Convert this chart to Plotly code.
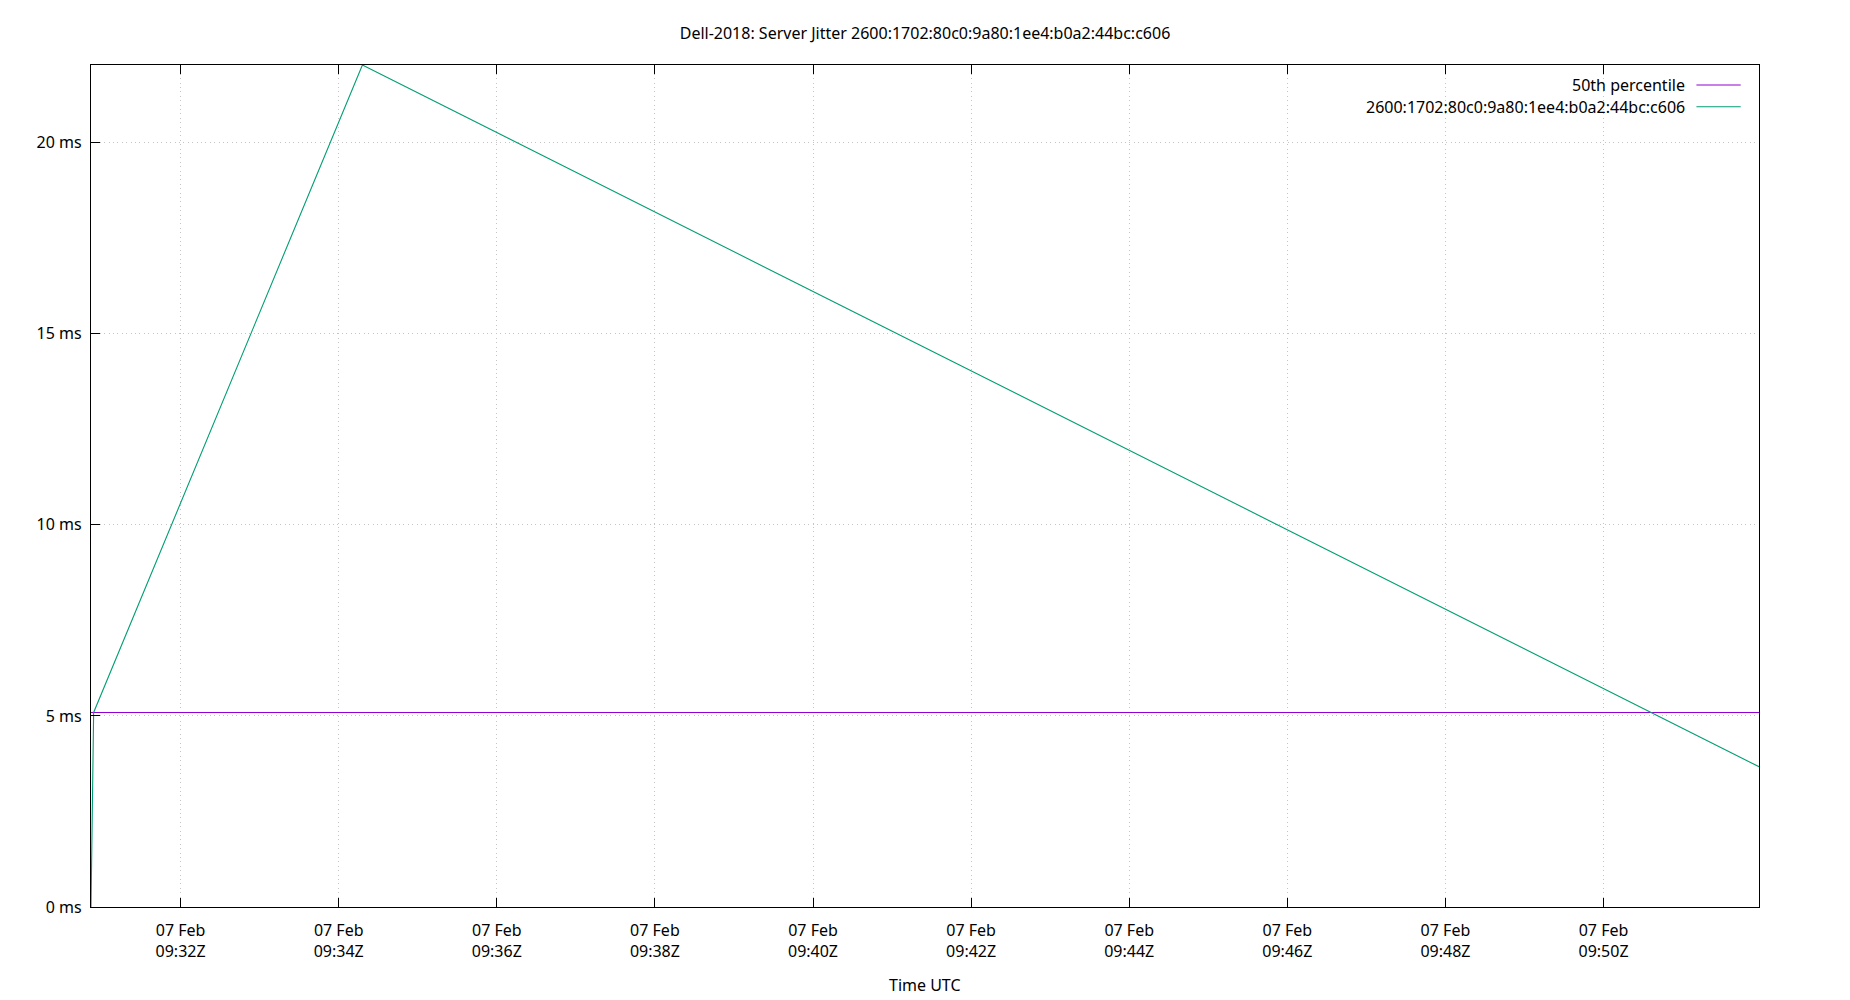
import plotly.graph_objects as go

# Data
times = ["2024-02-07 09:30:52", "2024-02-07 09:30:54", "2024-02-07 09:34:18", "2024-02-07 09:51:58"]
jitter_ms = [0.0, 5.09, 22.03, 3.67]
pct_times = ["2024-02-07 09:30:52", "2024-02-07 09:51:58"]
pct50_ms = [5.09, 5.09]

series_name = "2600:1702:80c0:9a80:1ee4:b0a2:44bc:c606"
pct_name = "50th percentile"
title_text = "Dell-2018: Server Jitter 2600:1702:80c0:9a80:1ee4:b0a2:44bc:c606"
y_ticks = [0, 5, 10, 15, 20]

FONT = "Noto Sans"
FS = 16
C_PCT = "#9400d3"
C_SER = "#009e73"

fig = go.Figure()
fig.add_trace(go.Scatter(x=pct_times, y=pct50_ms, mode="lines", name=pct_name,
                         line=dict(color=C_PCT, width=1.1), showlegend=False))
fig.add_trace(go.Scatter(x=times, y=jitter_ms, mode="lines", name=series_name,
                         line=dict(color=C_SER, width=1.1), showlegend=False))

axis_common = dict(
    showline=True, linecolor="black", linewidth=1.3,
    ticks="inside", ticklen=9, tickcolor="black", tickwidth=1.3,
    showgrid=True, gridcolor="#c4c4c4", griddash="1px,3.4px", gridwidth=1,
    zeroline=False, tickfont=dict(family=FONT, size=FS, color="black"),
)

fig.update_xaxes(
    type="date", range=[times[0], times[-1]],
    tick0="2024-02-07 09:32:00", dtick=120000,
    tickformat="%d %b<br>%H:%MZ", mirror="ticks", ticklabelstandoff=9,
    **axis_common,
)
fig.update_yaxes(
    range=[0, 22.03], tickvals=y_ticks, ticktext=[f"{v} ms" for v in y_ticks],
    mirror=True, ticklabelstandoff=5,
    **axis_common,
)

# gnuplot-style legend (text right, sample to the right)
legend_items = [(pct_name, C_PCT), (series_name, C_SER)]
W, H = 1850, 1000
L, R, T, B = 90.5, 90.7, 65.3, 93
pw, ph = W - L - R, H - T - B
def px_x(x):
    return (x - L) / pw
def px_y(y):
    return (H - B - y) / ph
annotations = []
shapes = []
for i, (name, col) in enumerate(legend_items):
    yc = 85.3 + i * 21.7
    annotations.append(dict(x=px_x(1687.5), y=px_y(yc), xref="paper", yref="paper",
                            text=name, showarrow=False, xanchor="right", yanchor="middle",
                            font=dict(family=FONT, size=FS, color="black")))
    shapes.append(dict(type="line", xref="paper", yref="paper",
                       x0=px_x(1696.7), x1=px_x(1741), y0=px_y(yc), y1=px_y(yc),
                       line=dict(color=col, width=1.1)))

annotations.append(dict(x=0.5, y=px_y(985), xref="paper", yref="paper", text="Time UTC",
                        showarrow=False, xanchor="center", yanchor="middle",
                        font=dict(family=FONT, size=FS, color="black")))

fig.update_layout(
    width=W, height=H, autosize=False,
    margin=dict(l=L, r=R, t=T, b=B, pad=0),
    paper_bgcolor="white", plot_bgcolor="white",
    title=dict(text=title_text, x=0.5, xanchor="center", xref="paper",
               y=1 - 33.3 / H, yref="container", yanchor="middle",
               font=dict(family=FONT, size=FS, color="black")),
    annotations=annotations, shapes=shapes,
    showlegend=False,
)

fig.write_html("out.html", config={"displayModeBar": False},
               post_script="document.body.style.margin='0';")
